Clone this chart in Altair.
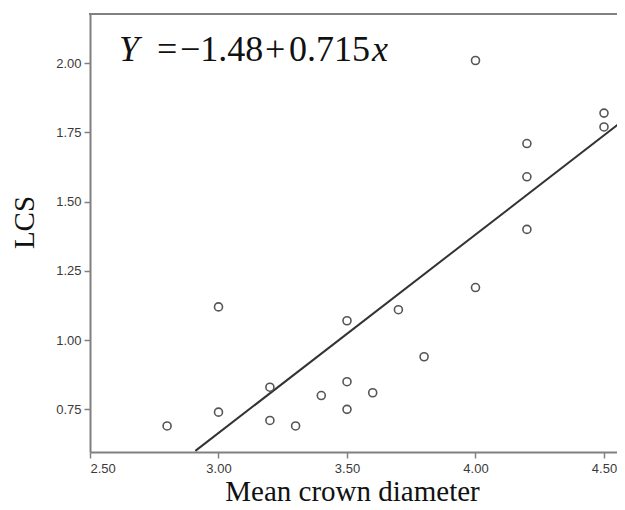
import altair as alt
import pandas as pd

# Data
crown_diameter = [2.8, 3.0, 3.0, 3.2, 3.2, 3.3, 3.4, 3.5, 3.5, 3.5,
                  3.6, 3.7, 3.8, 4.0, 4.0, 4.2, 4.2, 4.2, 4.5, 4.5]
lcs = [0.69, 1.12, 0.74, 0.83, 0.71, 0.69, 0.80, 1.07, 0.85, 0.75,
       0.81, 1.11, 0.94, 2.01, 1.19, 1.71, 1.59, 1.40, 1.82, 1.77]

# Fitted line endpoints (Y = -1.48 + 0.715x)
fit_x = [2.91, 4.57]
fit_y = [0.60, 1.79]

x_ticks = [2.5, 3.0, 3.5, 4.0, 4.5]
y_ticks = [0.75, 1.00, 1.25, 1.50, 1.75, 2.00]

# Equation pieces (text, italic?)
eq_parts = ["Y", "=", "\u22121.48", "+", "0.715", "x"]
eq_italic = [True, False, False, False, False, True]

W, H = 527, 438

points_df = pd.DataFrame({"x": crown_diameter, "y": lcs})
fit_df = pd.DataFrame({"x": fit_x, "y": fit_y})

xscale = alt.Scale(domain=[2.5, 4.5506], nice=False, zero=False)
yscale = alt.Scale(domain=[0.596, 2.178], nice=False, zero=False)

points = alt.Chart(points_df).mark_point(
    shape="circle", filled=False, size=64, color="#555555", strokeWidth=1.6, opacity=1
).encode(
    x=alt.X("x:Q", scale=xscale,
            axis=alt.Axis(values=x_ticks, format=".2f", title="Mean crown diameter",
                          titleX=262, titleY=48, titleAnchor="middle", titleAlign="center",
                          titleBaseline="alphabetic")),
    y=alt.Y("y:Q", scale=yscale,
            axis=alt.Axis(values=y_ticks, format=".2f", title="LCS",
                          titleX=-66, titleY=208, titleAngle=-90, titleAlign="center",
                          titleBaseline="middle")),
)

fit = alt.Chart(fit_df).mark_line(color="#333333", strokeWidth=2, clip=True).encode(
    x=alt.X("x:Q", scale=xscale),
    y=alt.Y("y:Q", scale=yscale),
)

top_border = alt.Chart(pd.DataFrame({"a": [0]})).mark_rule(
    color="#808080", strokeWidth=2
).encode(x=alt.value(-1), x2=alt.value(W), y=alt.value(0))

eq_font = "Liberation Serif"
eq_size = 36
eq_y = 47
eq_x = [29, 67, 90, 175, 199, 282]
eq_layers = []
for txt, ital, px in zip(eq_parts, eq_italic, eq_x):
    kw = dict(font=eq_font, fontSize=eq_size, align="left",
              baseline="alphabetic", color="#111111")
    if ital:
        kw["fontStyle"] = "italic"
    eq_layers.append(
        alt.Chart(pd.DataFrame({"t": [txt]})).mark_text(**kw).encode(
            x=alt.value(px), y=alt.value(eq_y), text="t:N")
    )

chart = alt.layer(top_border, fit, points, *eq_layers).properties(
    width=W, height=H,
    autosize=alt.AutoSizeParams(type="none"),
    padding={"left": 82, "top": 6, "right": 0, "bottom": 50},
).configure_view(stroke=None).configure_axis(
    grid=False,
    domainColor="#808080", domainWidth=2,
    tickColor="#808080", tickWidth=1.5, tickSize=6,
    labelFont="Liberation Sans", labelFontSize=13, labelColor="#3a3a3a",
    labelPadding=3,
    titleFont="Liberation Serif", titleFontSize=29, titleFontWeight="normal",
    titleColor="#111111",
).configure_axisX(labelPadding=4)

chart.save("out.html", embed_options={"renderer": "svg", "actions": False})
